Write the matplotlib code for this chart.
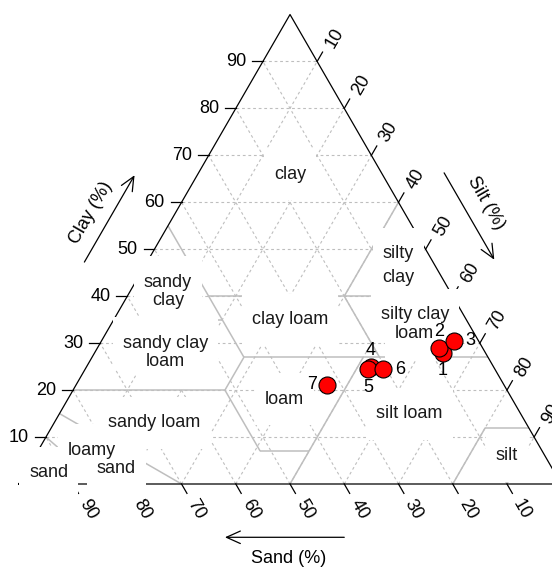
import numpy as np
import matplotlib
matplotlib.use("Agg")
import matplotlib.pyplot as plt
from matplotlib.patches import Rectangle

plt.rcParams['font.family'] = ['Liberation Sans', 'DejaVu Sans']

# soil samples, percent
sample_ids = ['1', '2', '3', '4', '5', '6', '7']
sand = [7.8, 8.0, 4.6, 22.6, 23.4, 20.6, 32.6]
silt = [64.2, 63.1, 64.9, 52.5, 52.2, 55.0, 46.3]
clay = [28.0, 28.9, 30.5, 24.9, 24.4, 24.4, 21.1]
# R style text pos: 1 below, 2 left, 3 above, 4 right
sample_pos = [1, 3, 4, 3, 1, 4, 2]

tick_values = [10, 20, 30, 40, 50, 60, 70, 80, 90]

# USDA class names, as separate words like plotrix::soil.texture
class_names = ["clay", "silty", "clay", "silty clay", "loam", "clay loam",
               "sandy", "clay", "sandy clay", "loam", "sandy loam", "loamy",
               "sand", "sand", "loam", "silt loam", "silt"]
# where they go: fraction of the base, fraction of the height
name_fx = [0.5, 0.7, 0.7, 0.73, 0.73, 0.5, 0.275, 0.275, 0.27, 0.27, 0.25,
           0.135, 0.18, 0.055, 0.49, 0.72, 0.9]
name_fy = [0.66, 0.49, 0.44, 0.36, 0.32, 0.35, 0.43, 0.39, 0.3, 0.26, 0.13,
           0.072, 0.032, 0.024, 0.18, 0.15, 0.06]

# USDA class boundaries, end points as (clay, silt)
boundaries = [
    ((10, 0), (0, 15)),
    ((15, 0), (0, 30)),
    ((20, 0), (20, 28)),
    ((20, 28), (7, 41)),
    ((7, 41), (7, 50)),
    ((27, 50), (0, 50)),
    ((20, 28), (27, 28)),
    ((35, 0), (35, 20)),
    ((27, 28), (55, 0)),
    ((27, 28), (27, 73)),
    ((40, 15), (40, 60)),
    ((40, 40), (60, 40)),
    ((40, 40), (27, 53)),
    ((12, 80), (0, 80)),
    ((12, 80), (12, 88)),
]

H = np.sqrt(3) / 2


def tern(c, s):
    # clay, silt -> plane coords (sand 100 at left corner)
    return s + c / 2.0, c * H


fig = plt.figure(figsize=(5.52, 5.67), dpi=100)
ax = fig.add_axes([0, 0, 1, 1])
ax.set_xlim(-3.47, 98.3)
ax.set_ylim(-15.31, 89.28)
ax.axis('off')

grid_kw = dict(color='#bebebe', lw=0.8, ls=(0, (2.5, 2.5)), zorder=1)
for v in tick_values:
    for a, b in [((v, 0), (v, 100 - v)), ((0, v), (100 - v, v)), ((0, 100 - v), (100 - v, 0))]:
        x0, y0 = tern(*a)
        x1, y1 = tern(*b)
        ax.plot([x0, x1], [y0, y1], **grid_kw)

for a, b in boundaries:
    x0, y0 = tern(*a)
    x1, y1 = tern(*b)
    ax.plot([x0, x1], [y0, y1], color='#bebebe', lw=1.1, zorder=1.5, solid_capstyle='butt')

# frame
ax.plot([0, 100, 50, 0], [0, 0, 100 * H, 0], color='black', lw=0.9, zorder=2)

tl = 2.0
up_r = np.array([0.5, H])
dn_r = np.array([0.5, -H])
perp = np.array([H, -0.5])
for v in tick_values:
    # clay, left side
    px, py = tern(v, 0)
    ax.plot([px, px - tl], [py, py], color='black', lw=0.9, zorder=2)
    ax.text(px - 3.1, py, str(v), ha='right', va='center', fontsize=13, zorder=5)
    # silt, right side
    p = np.array(tern(100 - v, v))
    e = p + tl * up_r
    ax.plot([p[0], e[0]], [p[1], e[1]], color='black', lw=0.9, zorder=2)
    c = e + 3.34 * up_r + 0.63 * perp
    ax.text(c[0], c[1], str(v), rotation=60, ha='center', va='center',
            rotation_mode='anchor', fontsize=13, zorder=5)
    # sand, bottom
    p = np.array(tern(0, 100 - v))
    e = p + tl * dn_r
    ax.plot([p[0], e[0]], [p[1], e[1]], color='black', lw=0.9, zorder=2)
    c = e + 3.49 * dn_r
    ax.text(c[0], c[1], str(v), rotation=-60, ha='center', va='center',
            rotation_mode='anchor', fontsize=13, zorder=5)

# axis titles and arrows
arw = dict(arrowstyle='->,head_length=1.0,head_width=0.45', lw=0.9, color='black',
           shrinkA=0, shrinkB=0)
nl = np.array([-H, 0.5])
nr = np.array([H, 0.5])
a0 = np.array(tern(41.5, 0)) + 10 * nl
a1 = np.array(tern(60, 0)) + 10 * nl
ax.annotate('', xy=a1, xytext=a0, arrowprops=arw, zorder=2)
ax.text(13.26, 49.94, 'Clay (%)', rotation=60, ha='center', va='center',
        rotation_mode='anchor', fontsize=13)
a0 = np.array(tern(60.5, 39.5)) + 10 * nr
a1 = np.array(tern(42, 58)) + 10 * nr
ax.annotate('', xy=a1, xytext=a0, arrowprops=arw, zorder=2)
ax.text(86.08, 51.78, 'Silt (%)', rotation=-60, ha='center', va='center',
        rotation_mode='anchor', fontsize=13)
ax.annotate('', xy=(100 - 62, -9.83), xytext=(100 - 40, -9.83), arrowprops=arw, zorder=2)
ax.text(49.72, -13.74, 'Sand (%)', ha='center', va='center', fontsize=13)

# class names with white boxes behind them
name_texts = []
for nm, fx, fy in zip(class_names, name_fx, name_fy):
    t = ax.text(fx * 100, fy * H * 100, nm, ha='center', va='center',
                fontsize=13, color='#1a1a1a', zorder=4)
    name_texts.append(t)

fig.canvas.draw()
rend = fig.canvas.get_renderer()
inv = ax.transData.inverted()
for t in name_texts:
    bb = t.get_window_extent(rend)
    cx, cy = ax.transData.transform(t.get_position())
    (x0, y0), (x1, y1) = inv.transform([(bb.x0 - 10, cy - 26), (bb.x1 + 10, cy + 26)])
    ax.add_patch(Rectangle((x0, y0), x1 - x0, y1 - y0, facecolor='white',
                           edgecolor='none', zorder=3))

# samples
xs, ys = tern(np.array(clay), np.array(silt))
ax.scatter(xs, ys, s=150, facecolor='red', edgecolor='black', linewidth=0.8, zorder=6)
offs = {1: (0, -12.8), 2: (-11, 0), 3: (0, 12), 4: (11.8, 0)}
for sid, x, y, p in zip(sample_ids, xs, ys, sample_pos):
    ax.annotate(sid, (x, y), xytext=offs[p], textcoords='offset points',
                ha='center', va='center', fontsize=13, zorder=7)

fig.savefig('out.png', dpi=100)
